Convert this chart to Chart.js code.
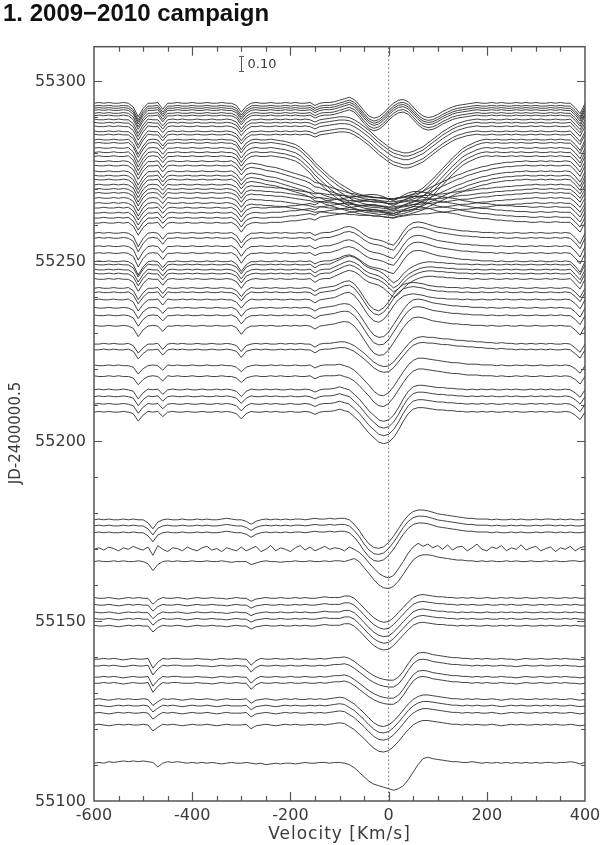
<!DOCTYPE html>
<html>
<head>
<meta charset="utf-8">
<script src="https://cdn.jsdelivr.net/npm/chart.js@4"></script>
<style>
html,body{margin:0;padding:0;background:#fff;}
#c{display:block;}
</style>
</head>
<body>
<canvas id="c" width="600" height="845"></canvas>
<script>
// velocity grid (km/s)
const velocity = [
  -600,-590,-580,-570,-560,-550,-540,-530,-520,-510,
  -500,-490,-480,-470,-460,-450,-440,-430,-420,-410,
  -400,-390,-380,-370,-360,-350,-340,-330,-320,-310,
  -300,-290,-280,-270,-260,-250,-240,-230,-220,-210,
  -200,-190,-180,-170,-160,-150,-140,-130,-120,-110,
  -100,-90,-80,-70,-60,-50,-40,-30,-20,-10,
  0,10,20,30,40,50,60,70,80,90,
  100,110,120,130,140,150,160,170,180,190,
  200,210,220,230,240,250,260,270,280,290,
  300,310,320,330,340,350,360,370,380,390,
  400
];

// line profiles, in percent of continuum (one row = 100 km/s)
const profBot = [
  0,0.5,0,1,0.5,1,1.5,1,1.5,1,
  1.5,1,0.5,-2.5,0,1,0.5,1,0.5,0,
  0.5,0,0.5,0,0.5,0,-0.5,0,0.5,0,
  0,0.5,0,-0.5,0,-1,-0.5,0,-0.5,0,
  0,-0.5,0,0.5,0,0,0.5,0.5,0,0.5,
  0.5,0,-1,-3,-6,-9,-12,-14,-15,-16,
  -17,-18,-17,-15,-11,-6,-1,3,4,3,
  2.5,2,1.5,1,1,0.5,0.5,1,0.5,0,
  0.5,0,0.5,0,0.5,0,0.5,0,0.5,0,
  0.5,0,0.5,0.5,0,0.5,0.5,1,0.5,-0.5,
  0.5
];
const profLowA = [
  0,0.5,0,-0.5,0,0.5,0,0.5,0,0,
  0.5,0,-4,-1.5,0.5,0,0.5,0,-0.5,0,
  0.5,0,0,0.5,0,-0.5,0,0.5,0,0,
  0,0.5,-2.5,-0.5,0,0.5,0,-0.5,0,0.5,
  0,0.5,0,0,0.5,0,0.5,0,0.5,1,
  1.5,1,-1,-3,-6,-9,-12.5,-15.5,-17.5,-18,
  -17,-14.5,-11,-7,-3,0,2,3,3,2.5,
  2,1.5,1,0.5,0.5,0,0.5,0,0.5,0,
  0,0.5,0,-0.5,0,0.5,0,0.5,0,0,
  0.5,0,0.5,0,0.5,0,0,0.5,0,-0.5,
  0
];
const profLowB = [
  0,0,0.5,0,0.5,0,-0.5,0,0.5,0,
  0,0.5,-6,-2,0.5,0,0.5,0.5,0,0,
  0,0.5,0,0,-0.5,0,0.5,0,0,0.5,
  0,0,-4,-1,0.5,0,0,0.5,0,0,
  0.5,0,0,0.5,0,0,0.5,0,0.5,1,
  1,1.5,0.5,-1.5,-4,-6.5,-9,-11,-12.5,-13.5,
  -14,-14,-12,-8,-3,1.5,4,4.5,4,3,
  2.5,2,1.5,1,1,0.5,0.5,0,0.5,0,
  0.5,0,0,0.5,0,0,-0.5,0,0.5,0,
  0,0.5,0,0,0.5,0,0.5,0,0,-0.5,
  0
];
const prof150 = [
  0.5,0,0,0.5,0,-0.5,0,0.5,0,0.5,
  0,0,-4,-1,0.5,0,0,0.5,0,-0.5,
  0,0.5,0,0,0.5,0,0,-0.5,0,0.5,
  0,0,-2,-0.5,0,0.5,0,0,0.5,0,
  0,0.5,0,0.5,0,0,0.5,1,0.5,0.5,
  0.5,1.5,1.5,0,-3,-6.5,-10,-13,-15,-16,
  -15.5,-13,-9.5,-6,-2.5,0.5,2,2.5,2,1.5,
  1,1,0.5,0.5,0,0.5,0,0.5,0,0,
  0.5,0,0,0.5,0,0.5,0,0,0.5,0,
  0,0.5,0,0.5,0,0,0.5,0,0.5,0,
  0
];
const prof166 = [
  0,0.5,0,0,0.5,0,0.5,0,0,0.5,
  0,-1.5,-6,-2,0,0.5,0,0.5,0,0,
  0.5,0,0,0.5,0,0,0.5,0,-0.5,0,
  0,0,-2,-1,0,0.5,0,0,-0.5,0,
  0,0.5,0,0,0.5,0,0,0.5,0,0.5,
  0.5,0,1,2,0,-4,-8,-12,-15.5,-17.5,
  -18,-16.5,-13,-8.5,-3.5,1,3.5,4.5,4.5,4,
  3,2.5,2,1.5,1,1,0.5,0.5,0,0.5,
  0,0.5,0,0,0.5,0,0.5,0,0,0.5,
  0,0,0.5,0,0.5,0,0,0.5,0.5,0,
  0.5
];
const profNoisy = [
  0,1,-0.5,1.5,0.5,-1,1,0,2,0.5,
  -0.5,1.5,-4,2.5,0,-1.5,1,0.5,-1,1.5,
  0,-1,1,2,-0.5,0.5,-1.5,1,0,-1,
  1.5,-1,0.5,2,-1.5,0,2.5,-1,1,0,
  -1.5,1,2.5,-0.5,1.5,-1,0.5,2,0,1,
  0.5,-1,1.5,0,-2,-5,-9,-12.5,-16,-18,
  -19,-17.5,-13,-8,-2.5,1.5,4,2,3.5,1,
  2.5,0,3,-0.5,1.5,2,-1,1,3.5,0,
  -1,1.5,0.5,2.5,-1,1,0,3,-0.5,1,
  2,-1,0.5,1.5,-1.5,1,0,2,-1,1,
  2
];
const prof170 = [
  0,0.5,0,0.5,0,0,0.5,0,0.5,0,
  0,-2,-6,-1.5,0,0.5,0,0,0.5,0,
  0,0.5,0,0.5,0,0,0.5,1,0.5,0,
  0,-1,-3,-1,0,0.5,0,0.5,0,0.5,
  0,0.5,0.5,0,0.5,1,0.5,0.5,1,0.5,
  1,1,0,-3,-7,-12,-16,-18.5,-19,-18,
  -15,-11,-6,-1,3,5.5,6.5,6.5,6,5,
  4,3.5,3,2.5,2,1.5,1,1,0.5,0.5,
  0.5,0,0.5,0,0,0.5,0,0.5,0,0,
  0.5,0,0.5,0.5,0,0.5,0,0.5,0,0,
  0.5
];
const prof208 = [
  0,0.5,0,0.5,0,0,0.5,0,-1,-6,
  -2,0.5,0,0.5,-3,0,0.5,0,0,0.5,
  0,0,0.5,0,0,0.5,0,0.5,0,-1,
  -4.5,-1,0.5,0,0,0.5,0,0.5,0,0,
  0.5,0,0,0.5,0,-1.5,0,0.5,0.5,1,
  2,1,0,-3,-6,-10,-14,-17,-20,-21,
  -20,-17,-12,-6,-1,2,3,3,2.5,2,
  1.5,1.5,1,1,0.5,0.5,0,0.5,0,0.5,
  0,0.5,0,0,0.5,0,0.5,0,0,0.5,
  0,0.5,0,0.5,0,0,0.5,0,-2,-5,
  0
];
const prof218 = [
  0.5,0,0,0.5,0,0.5,0,0,-1,-5.5,
  -2,0,0.5,0,-3,0.5,0,0.5,0,0,
  0.5,0,0,0.5,0,0,0.5,0,0,-1,
  -4,-1,0,0.5,0,0,0.5,0,0.5,0,
  0,0.5,0,0,0.5,-1.5,0,0.5,0.5,0.5,
  1,0,-1,-3,-6,-9.5,-13,-17,-19.5,-20,
  -18,-14,-9,-4,0.5,3.5,5,5,4.5,4,
  3.5,3,2.5,2,2,1.5,1,1,1,0.5,
  0.5,0.5,0,0.5,0,0,0.5,0,0.5,0,
  0,0.5,0,0,0.5,0,0.5,0,-2,-5,
  0
];
const prof225 = [
  0,0,0.5,0,0.5,0,0,0.5,-1,-6,
  -2.5,0,0,0.5,-3.5,0,0.5,0,0.5,0,
  0,0.5,0,0,0.5,0,0,0.5,0,-1,
  -5,-1,0,0.5,0,0.5,0,0,0.5,0,
  0.5,0,0.5,0,0,-2,0,0.5,0.5,1,
  1.5,1.5,0.5,-1,-3.5,-6,-9,-12,-14,-15,
  -14.5,-12,-8,-4,0,3,4.5,5,4.5,4.5,
  4,3.5,3.5,3,2.5,2.5,2,2,1.5,1.5,
  1,1,0.5,1,0.5,0.5,0,0.5,0,0.5,
  0,0.5,0,0.5,0,0,0.5,0,-2.5,-5.5,
  0
];
const prof232 = [
  0.5,0,0,0.5,0,0,0.5,0,-1.5,-7,
  -2.5,0,0.5,0,-3.5,0,0,0.5,0,0.5,
  0,0,0.5,0,0,0.5,0,0,0.5,-1,
  -5.5,-1.5,0,0,0.5,0,0.5,0,0,0.5,
  0,0.5,0,0.5,0,-2,0,0.5,1,1.5,
  2.5,3,2.5,0,-4,-9,-14,-18,-19.5,-19,
  -16,-11,-6,-1,3,5.5,6,5.5,4.5,3.5,
  3,2.5,2,1.5,1.5,1,1,0.5,0.5,0.5,
  0,0.5,0,0,0.5,0,0,0.5,0,0,
  0.5,0,0,0.5,0,0.5,0,0,-2.5,-6,
  0
];
const prof240 = [
  0,0.5,0,0,0.5,0,0,0.5,-1.5,-7.5,
  -3,0,0,0.5,-3.5,0.5,0,0,0.5,0,
  0.5,0,0,0.5,0,0,0.5,0,0,-1.5,
  -5.5,-1.5,0.5,0,0,0.5,0,0.5,0,0,
  0.5,0,0,0.5,0,-2,0,0.5,1,1.5,
  3,4.5,5,3,-1,-6,-11,-14,-15,-13,
  -9,-4,0,2.5,3.5,4,3.5,3,2,1.5,
  1,1,0.5,0.5,0.5,0,0.5,0,0,0.5,
  0,0,0.5,0,0.5,0,0,0.5,0,0,
  0.5,0,0,0.5,0,0,0.5,0,-2.5,-6,
  0
];
const prof245 = [
  0.5,0,0,0.5,0,0.5,0,0,-2,-8,
  -3,0.5,0,0,-4,0,0.5,0,0,0.5,
  0,0.5,0,0,0.5,0,0,0.5,0,-1.5,
  -6,-1.5,0,0.5,0,0,0.5,0,0.5,0,
  0,0.5,0,0,0.5,-2,0,0.5,0.5,2,
  3.5,5,6,5,3,0,-2,-3,-4,-6,
  -9,-12,-10,-6,-3,-1,0.5,1.5,2,2,
  1.5,1.5,1,1,0.5,0.5,0.5,0,0.5,0,
  0,0.5,0,0,0.5,0,0.5,0,0,0.5,
  0,0,0.5,0,0.5,0,0,0.5,-3,-6.5,
  0
];
const prof250 = [
  0,0.5,0,0.5,0,0,0.5,0,-2,-9,
  -3.5,0,0.5,0,-4,0,0,0.5,0,0,
  0.5,0,0,0.5,0,0.5,0,0,0.5,-1.5,
  -6.5,-2,0,0,0.5,0,0,0.5,0,0.5,
  0,0,0.5,0,0.5,-1.5,0,0.5,0.5,1.5,
  2.5,4,4.5,3.5,1.5,-1,-3,-4,-4.5,-5.5,
  -7,-8,-4,1,5,7,7.5,7,6,5,
  4,3.5,3,2.5,2,1.5,1.5,1,1,0.5,
  0.5,0.5,0,0.5,0,0,0.5,0,0,0.5,
  0,0.5,0,0,0.5,0,0.5,0,-3,-7,
  0
];
const prof260 = [
  0,0,0.5,0,0,0.5,0,0.5,-2,-8,
  -3,0,0,0.5,-3.5,0,0.5,0,0,0.5,
  0,0,0.5,0,0,0.5,0,0,0.5,-1.5,
  -6,-1.5,0,0.5,0,0,0.5,0.5,0.5,1,
  1.5,1.5,2,2.5,3,2,4,4.5,5,5.5,
  6,6.5,7,7.5,8,8.5,9,9,8.5,7.5,
  6,5,6.5,8.5,10,11,11,10.5,10,9,
  8,7.5,7,6.5,6,5,4.5,4,3.5,3,
  3,2.5,2,2,1.5,1.5,1,1,1,0.5,
  0.5,1,0.5,0.5,1,0.5,0.5,0.5,-2.5,-6,
  0.5
];
const prof266 = [
  0,0.5,0,0,0.5,0,0.5,0,-2,-8.5,
  -3,0,0.5,0,-3.5,0.5,0,0,0.5,0,
  0,0.5,0,0,0.5,0,0,0.5,0,-1.5,
  -6,-1.5,-0.5,-1,-1,-1.5,-1.5,-2,-2,-2.5,
  -3,-3.5,-4,-4.5,-5,-6,-5.5,-6,-6.5,-6.5,
  -7,-7,-7.5,-7.5,-8,-8,-8,-8.5,-8.5,-9,
  -9.5,-10,-9,-8.5,-8,-7.5,-7.5,-7,-7,-6.5,
  -6,-6,-5.5,-5,-4.5,-4,-4,-3.5,-3,-2.5,
  -2.5,-2,-1.5,-1.5,-1,-1,-0.5,-0.5,0,0,
  0.5,0,0,0.5,0,0.5,0,0,-2.5,-6,
  0
];
const prof272 = [
  0.5,0,0,0.5,0,0,0.5,0,-2.5,-9,
  -3.5,0,0,0.5,-4,0,0.5,0,0,0.5,
  0,0,0.5,0,0,0.5,0,0,0.5,-1.5,
  -6,-2,-1,-1.5,-2,-3,-3.5,-4,-5,-6,
  -7,-8,-9,-10,-11.5,-14,-14.5,-16,-17,-18,
  -19,-20,-21,-21.5,-22.5,-23,-23.5,-24,-24,-24.5,
  -25,-25,-24,-23.5,-23,-22,-21,-20,-18,-16.5,
  -15,-13.5,-12,-10.5,-9,-8,-6.5,-5.5,-4.5,-3.5,
  -3,-2,-1.5,-1,-0.5,-0.5,0,0,0.5,0,
  0,0.5,0,0.5,0,0,0.5,0,-3,-7,
  0
];
const prof280 = [
  0,0.5,0,0,0.5,0,0,0.5,-2.5,-9.5,
  -4,0,0.5,0,-4,0,0,0.5,0,0,
  0.5,0,0,0.5,0,0,0.5,0,0,-1.5,
  -6.5,-2,0,0.5,0,0,0.5,0,-0.5,-1,
  -2,-3,-5,-8,-11,-15,-18,-21,-24,-26.5,
  -29,-31,-33,-35,-36,-37,-37.5,-38,-38.5,-38.5,
  -39,-39,-38.5,-38,-37,-36,-34,-32,-29,-26,
  -22.5,-19,-15.5,-12,-9,-6,-4,-2.5,-1,0,
  0.5,0,0.5,0,0,0.5,0,0.5,0,0,
  0.5,0,0,0.5,0,0.5,0,0,-3,-7,
  0
];
const prof286 = [
  0.5,0,0,0.5,0,0.5,0,0,-2.5,-9,
  -3.5,0.5,0,0,-4,0,0.5,0,0.5,0,
  0,0.5,0,0,0.5,0,0,0.5,0,-1.5,
  -6,-2,0,0,0.5,0,0,0.5,0,0.5,
  0,0.5,0,0.5,0,-1.5,0,0.5,1,1.5,
  2,2,1.5,0,-2,-4.5,-7,-10,-13,-15.5,
  -18,-20,-21,-22,-22,-21,-19.5,-18,-15.5,-13,
  -10.5,-8,-6,-4,-2.5,-1.5,-0.5,0,0.5,0,
  0,0.5,0,0,0.5,0,0.5,0,0,0.5,
  0,0.5,0,0,0.5,0,0,0.5,-3,-6.5,
  0
];
const prof292 = [
  0,0.5,0,0.5,0,0,0.5,0,-2.5,-9,
  -3.5,0,0,0.5,-4,0,0,0.5,0,0,
  0.5,0,0,0.5,0,0,0.5,0,0,-1.5,
  -6,-2,0,0.5,0,0,0.5,0,0,0.5,
  0,0.5,0,0,0.5,-1.5,0,0.5,0.5,1,
  2,3,4,2.5,-1,-5,-8.5,-10,-9,-6.5,
  -3,0,2,2.5,1,-2.5,-6,-8.5,-9.5,-9,
  -7.5,-5.5,-4,-2.5,-1.5,-1,-0.5,0,0.5,0,
  0,0.5,0,0.5,0,0,0.5,0,0.5,0,
  0.5,0,0,0.5,0,0.5,0,0,-3,-7,
  0
];

// continuum level of each spectrum (JD-2400000.5) and the profile it shows
const epochJD = [
  55110.5,
  55121.1, 55124.4, 55126.4, 55128.2,
  55132.7, 55134.4, 55137.5, 55139.4,
  55148.6, 55150.5, 55152.3, 55154.4, 55156.3,
  55166.5, 55169.9,
  55174.5, 55176.4, 55178.1,
  55208.0, 55210.2, 55212.3, 55214.2,
  55217.9, 55220.9,
  55225.3, 55226.9,
  55231.9, 55234.8, 55236.9,
  55239.2, 55241.2, 55242.4,
  55244.9, 55246.4, 55247.5, 55248.9,
  55249.8, 55252.1, 55254.0, 55256.3, 55257.7,
  55260.5, 55261.9, 55263.3, 55264.7,
  55266.0, 55267.4, 55268.8, 55269.9, 55271.1,
  55272.5, 55273.6, 55274.8, 55276.4, 55277.6,
  55279.0, 55280.1, 55281.3, 55282.7, 55283.6,
  55285.0, 55285.9, 55287.3, 55288.3, 55289.2,
  55290.3, 55291.0, 55291.8, 55292.4, 55293.0, 55293.8
];
const epochProfile = [
  'bot',
  'lowA','lowA','lowA','lowA',
  'lowB','lowB','lowB','lowB',
  'p150','p150','p150','p150','p150',
  'p166','noisy',
  'p170','p170','p170',
  'p208','p208','p208','p208',
  'p218','p218',
  'p225','p225',
  'p232','p232','p232',
  'p240','p240','p240',
  'p245','p245','p245','p245',
  'p250','p250','p250','p250','p250',
  'p260','p260','p260','p260',
  'p266','p266','p266','p266','p266',
  'p272','p272','p272','p272','p272',
  'p280','p280','p280','p280','p280',
  'p286','p286','p286','p286','p286',
  'p292','p292','p292','p292','p292','p292'
];

const xTickLabels = [-600, -400, -200, 0, 200, 400];
const yTickLabels = [55100, 55150, 55200, 55250, 55300];

const DAYS_PER_PERCENT = 0.417; // the 0.10 bar spans 4.17 days
const BAR_V = -300, BAR_LOW = 55302.6, BAR_HIGH = 55306.8;

const profiles = {
  bot: profBot, lowA: profLowA, lowB: profLowB, p150: prof150, p166: prof166,
  noisy: profNoisy, p170: prof170, p208: prof208, p218: prof218, p225: prof225,
  p232: prof232, p240: prof240, p245: prof245, p250: prof250, p260: prof260,
  p266: prof266, p272: prof272, p280: prof280, p286: prof286, p292: prof292
};
for (const k in profiles) {
  if (profiles[k].length !== velocity.length) throw new Error('profile ' + k + ' has ' + profiles[k].length);
}

const datasets = epochJD.map((jd, k) => ({
  data: velocity.map((v, i) => ({x: v, y: jd + profiles[epochProfile[k]][i] * DAYS_PER_PERCENT})),
  borderColor: '#2e2e2e',
  borderWidth: 0.9,
  pointRadius: 0,
  fill: false,
  tension: 0
}));
// dotted zero-velocity line
datasets.push({
  data: [{x: 0, y: 55100}, {x: 0, y: 55309.5}],
  borderColor: '#666',
  borderWidth: 1,
  borderDash: [1.5, 2.5],
  pointRadius: 0,
  fill: false
});

const TICK_FONT = '16px "DejaVu Sans"';
const LABEL_COLOR = '#3a3a3a';

const frame = {
  id: 'frame',
  afterDatasetsDraw(chart) {
    const {ctx, chartArea: a, scales: {x, y}} = chart;
    ctx.save();
    ctx.strokeStyle = '#555';
    ctx.lineWidth = 1.5;
    ctx.strokeRect(a.left, a.top, a.right - a.left, a.bottom - a.top);

    // inward ticks on all four sides
    ctx.lineWidth = 1.2;
    ctx.beginPath();
    for (let v = -550; v < 400; v += 50) {
      const px = Math.round(x.getPixelForValue(v)) + 0.5;
      const len = v % 200 === 0 ? 9 : 5;
      ctx.moveTo(px, a.bottom); ctx.lineTo(px, a.bottom - len);
      ctx.moveTo(px, a.top); ctx.lineTo(px, a.top + len);
    }
    for (let j = 55110; j <= 55300; j += 10) {
      const py = Math.round(y.getPixelForValue(j)) + 0.5;
      const len = j % 50 === 0 ? 8 : 4;
      ctx.moveTo(a.left, py); ctx.lineTo(a.left + len, py);
      ctx.moveTo(a.right, py); ctx.lineTo(a.right - len, py);
    }
    ctx.stroke();

    // tick labels
    ctx.fillStyle = LABEL_COLOR;
    ctx.font = TICK_FONT;
    ctx.textAlign = 'center';
    ctx.textBaseline = 'top';
    xTickLabels.forEach(v => {
      ctx.fillText(v < 0 ? '-' + (-v) : String(v), x.getPixelForValue(v), a.bottom + 7);
    });
    ctx.textAlign = 'right';
    ctx.textBaseline = 'middle';
    yTickLabels.forEach(j => {
      ctx.fillText(String(j), a.left - 8, y.getPixelForValue(j) + 1);
    });

    // axis titles
    ctx.textAlign = 'center';
    ctx.textBaseline = 'middle';
    ctx.font = '17px "DejaVu Sans"';
    ctx.letterSpacing = '1px';
    ctx.fillText('Velocity [Km/s]', (a.left + a.right) / 2, 835);
    ctx.letterSpacing = '0px';
    ctx.save();
    ctx.translate(16, 433);
    ctx.rotate(-Math.PI / 2);
    ctx.font = '15px "DejaVu Sans"';
    ctx.fillText('JD-2400000.5', 0, 0);
    ctx.restore();

    // 0.10 flux scale bar
    const bx = Math.round(x.getPixelForValue(BAR_V)) + 0.5;
    const b1 = y.getPixelForValue(BAR_LOW), b2 = y.getPixelForValue(BAR_HIGH);
    ctx.strokeStyle = '#555';
    ctx.lineWidth = 1;
    ctx.beginPath();
    ctx.moveTo(bx, b1); ctx.lineTo(bx, b2);
    ctx.moveTo(bx - 2.5, b1); ctx.lineTo(bx + 2.5, b1);
    ctx.moveTo(bx - 2.5, b2); ctx.lineTo(bx + 2.5, b2);
    ctx.stroke();
    ctx.font = '13px "DejaVu Sans"';
    ctx.textAlign = 'left';
    ctx.fillText('0.10', bx + 6, (b1 + b2) / 2 + 1);

    // title
    ctx.fillStyle = '#111';
    ctx.font = 'bold 24px "Liberation Sans"';
    ctx.textBaseline = 'alphabetic';
    ctx.fillText('1. 2009\u22122010 campaign', 3, 21);
    ctx.restore();
  }
};

new Chart(document.getElementById('c'), {
  type: 'line',
  data: {datasets},
  options: {
    responsive: false,
    animation: false,
    devicePixelRatio: 1,
    layout: {padding: {left: 94, right: 15, top: 46.7, bottom: 44}},
    plugins: {legend: {display: false}, tooltip: {enabled: false}},
    scales: {
      x: {type: 'linear', display: false, min: -600, max: 400},
      y: {type: 'linear', display: false, min: 55100, max: 55309.5}
    }
  },
  plugins: [frame]
});
</script>
</body>
</html>
